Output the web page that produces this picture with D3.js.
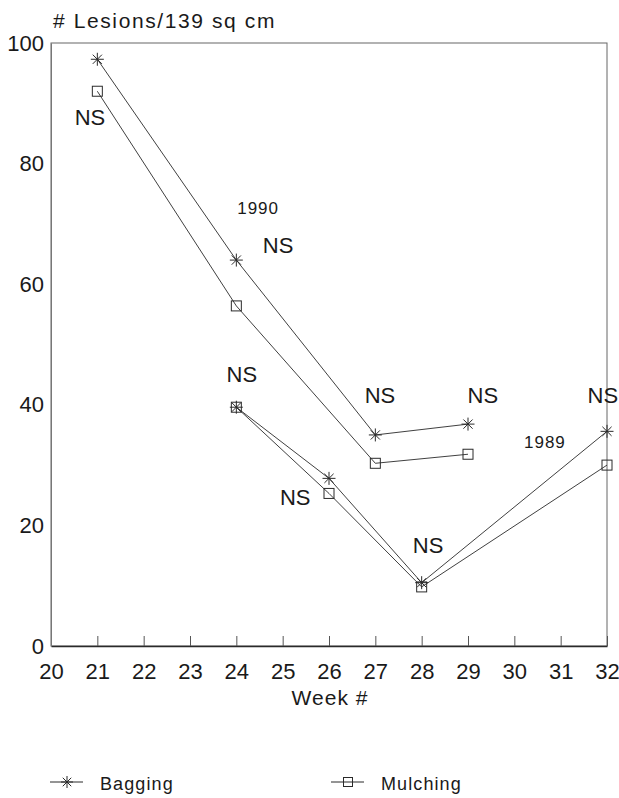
<!DOCTYPE html>
<html>
<head>
<meta charset="utf-8">
<script src="https://cdn.jsdelivr.net/npm/d3@7"></script>
<style>
  html, body { margin: 0; padding: 0; background: #fff; }
  svg text { font-family: "Liberation Sans", Arial, sans-serif; fill: #1a1a1a; }
</style>
</head>
<body>
<div id="chart"></div>
<script>
// Weeks and lesion counts per 139 sq cm
const weeks1990 = [21, 24, 27, 29];
const bagging1990 = [97.3, 64.0, 35.0, 36.8];
const mulching1990 = [92.0, 56.4, 30.3, 31.8];

const weeks1989 = [24, 26, 28, 32];
const bagging1989 = [39.6, 27.8, 10.5, 35.6];
const mulching1989 = [39.6, 25.3, 9.8, 30.0];

const xTicks = [20, 21, 22, 23, 24, 25, 26, 27, 28, 29, 30, 31, 32];
const yTicks = [0, 20, 40, 60, 80, 100];

// "NS" significance notes and year tags, in data coordinates
const notes = [
  { text: "NS", week: 20.84, value: 87.7, size: 22 },
  { text: "NS", week: 24.90, value: 66.5, size: 22 },
  { text: "NS", week: 24.12, value: 45.1, size: 22 },
  { text: "NS", week: 27.10, value: 41.6, size: 22 },
  { text: "NS", week: 29.32, value: 41.6, size: 22 },
  { text: "NS", week: 31.91, value: 41.6, size: 22 },
  { text: "NS", week: 25.27, value: 24.7, size: 22 },
  { text: "NS", week: 28.14, value: 16.7, size: 22 },
  { text: "1990", week: 24.47, value: 72.6, size: 17 },
  { text: "1989", week: 30.66, value: 33.8, size: 17 }
];

const W = 619, H = 798;
const plotLeft = 51, plotRight = 607, plotTop = 43, plotBottom = 646;

const svg = d3.select("#chart").append("svg")
  .attr("width", W).attr("height", H);

const x = d3.scaleLinear().domain([20, 32]).range([plotLeft, plotRight]);
const y = d3.scaleLinear().domain([0, 100]).range([plotBottom, plotTop]);

const ink = "#2a2a2a";

// Frame
svg.append("rect")
  .attr("x", plotLeft).attr("y", plotTop)
  .attr("width", plotRight - plotLeft).attr("height", plotBottom - plotTop)
  .attr("fill", "none").attr("stroke", "#666").attr("stroke-width", 1);

// X axis: inward ticks with labels below
const xAxis = svg.append("g").attr("transform", `translate(0,${plotBottom})`)
  .call(d3.axisBottom(x).tickValues(xTicks).tickSizeInner(-10).tickSizeOuter(0).tickPadding(17));
xAxis.select(".domain").attr("stroke", ink).attr("stroke-width", 1.4);
xAxis.selectAll(".tick line").attr("stroke", "#555");
xAxis.selectAll(".tick text").attr("font-size", 22).attr("fill", "#1a1a1a")
  .attr("font-family", "Liberation Sans, Arial, sans-serif");

// Y axis: labels only
const yAxis = svg.append("g").attr("transform", `translate(${plotLeft},0)`)
  .call(d3.axisLeft(y).tickValues(yTicks).tickSize(0).tickPadding(7));
yAxis.select(".domain").attr("stroke", "#777").attr("stroke-width", 1);
yAxis.selectAll(".tick text").attr("font-size", 22).attr("fill", "#1a1a1a")
  .attr("font-family", "Liberation Sans, Arial, sans-serif");

// Axis titles
svg.append("text").attr("x", 53).attr("y", 28)
  .attr("font-size", 21).attr("letter-spacing", 1.6).text("# Lesions/139 sq cm");
svg.append("text").attr("x", 330).attr("y", 705)
  .attr("text-anchor", "middle").attr("font-size", 21).attr("letter-spacing", 1)
  .text("Week #");

const line = d3.line().x(d => x(d[0])).y(d => y(d[1]));

function star(g, cx, cy, r) {
  for (let i = 0; i < 4; i++) {
    const a = i * Math.PI / 4;
    g.append("line")
      .attr("x1", cx - r * Math.cos(a)).attr("y1", cy - r * Math.sin(a))
      .attr("x2", cx + r * Math.cos(a)).attr("y2", cy + r * Math.sin(a))
      .attr("stroke", ink).attr("stroke-width", 1);
  }
}
function square(g, cx, cy, s) {
  g.append("rect").attr("x", cx - s / 2).attr("y", cy - s / 2)
    .attr("width", s).attr("height", s)
    .attr("fill", "none").attr("stroke", ink).attr("stroke-width", 1);
}

const seriesList = [
  { weeks: weeks1990, values: bagging1990, marker: "star" },
  { weeks: weeks1990, values: mulching1990, marker: "square" },
  { weeks: weeks1989, values: bagging1989, marker: "star" },
  { weeks: weeks1989, values: mulching1989, marker: "square" }
];

const plot = svg.append("g");
seriesList.forEach(s => {
  const pts = s.weeks.map((w, i) => [w, s.values[i]]);
  plot.append("path").datum(pts).attr("d", line)
    .attr("fill", "none").attr("stroke", ink).attr("stroke-width", 0.9);
  pts.forEach(p => {
    if (s.marker === "star") star(plot, x(p[0]), y(p[1]), 6.5);
    else square(plot, x(p[0]), y(p[1]), 10);
  });
});

// Notes
svg.append("g").selectAll("text").data(notes).join("text")
  .attr("x", d => x(d.week)).attr("y", d => y(d.value))
  .attr("text-anchor", "middle").attr("dominant-baseline", "central")
  .attr("letter-spacing", d => d.size < 20 ? 1 : 0)
  .attr("font-size", d => d.size).text(d => d.text);

// Legend
const legend = svg.append("g");
const legendItems = [
  { label: "Bagging", marker: "star", x0: 50 },
  { label: "Mulching", marker: "square", x0: 331 }
];
legendItems.forEach(it => {
  const cy = 783;
  legend.append("line").attr("x1", it.x0).attr("x2", it.x0 + 33)
    .attr("y1", cy - 1).attr("y2", cy - 1).attr("stroke", ink).attr("stroke-width", 1);
  if (it.marker === "star") star(legend, it.x0 + 17, cy - 1, 6);
  else square(legend, it.x0 + 17, cy - 1, 9);
  legend.append("text").attr("x", it.x0 + 50).attr("y", cy + 7)
    .attr("font-size", 18).attr("letter-spacing", 1.1).text(it.label);
});
</script>
</body>
</html>
